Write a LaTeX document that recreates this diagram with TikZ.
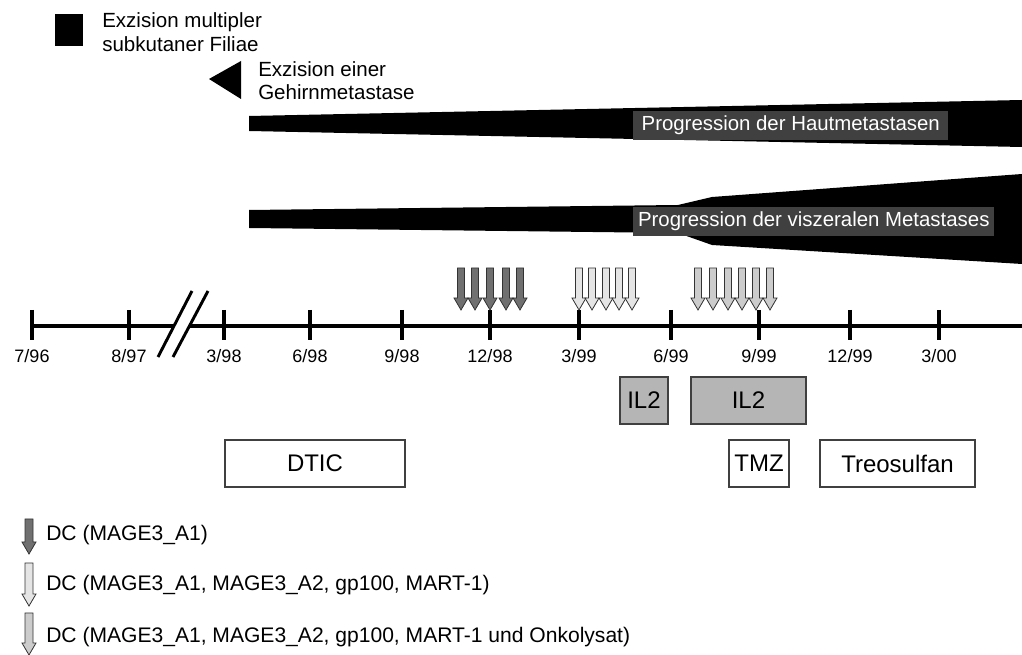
\documentclass[tikz,border=0pt]{standalone}
\usepackage{fontspec}
\setmainfont{Liberation Sans}
\usepackage{xcolor}
\usetikzlibrary{arrows}

\definecolor{dcdark}{gray}{0.44}
\definecolor{dclight}{gray}{0.9}
\definecolor{dclysat}{gray}{0.8}
\definecolor{ilgray}{gray}{0.71}
\definecolor{labelgray}{gray}{0.25}

\begin{document}
\begin{tikzpicture}[
    x=0.75pt, y=-0.75pt,
    axis/.style={line width=3pt},
    tick/.style={line width=2.4pt},
    break line/.style={line width=2.2pt},
    prog label/.style={fill=labelgray, text=white, anchor=west,
    font=\fontsize{15.3}{17}\selectfont, inner xsep=3pt, inner ysep=3.5pt},
    note/.style={anchor=base west, font=\fontsize{15.4}{17}\selectfont, inner sep=0pt},
    legend/.style={anchor=base west, font=\fontsize{15.8}{17}\selectfont, inner sep=0pt},
    date/.style={anchor=base, font=\fontsize{13.5}{16}\selectfont, inner sep=0pt},
    therapy/.style={draw=black!75, line width=0.8pt, minimum height=35.25pt,
    font=\fontsize{18}{20}\selectfont},
    dc arrow/.style={draw=black!80, line width=0.6pt, line join=miter}
    ]
\useasboundingbox (0,0) rectangle (1022,655);

% events
\fill (55,14) rectangle (83,46);
\node[note] (multi1) at (102,28) {Exzision multipler};
\node[note] (multi2) at (102,52) {subkutaner Filiae};
\fill (209,79) -- (241,61) -- (241,99) -- cycle;
\node[note] (gehirn1) at (258,77) {Exzision einer};
\node[note] (gehirn2) at (258,100) {Gehirnmetastase};

% progression
\fill (249,116) -- (1022,100) -- (1022,147) -- (249,131) -- cycle;
\node[prog label, minimum width=236.25pt] (haut) at (633,125.5) {Progression der Hautmetastasen};
\fill (249,210) -- (678,205) -- (712,197) -- (1022,174) -- (1022,264)
  -- (712,245) -- (678,233) -- (249,228) -- cycle;
\node[prog label, minimum width=270.75pt] (viszeral) at (633,221.5) {Progression der viszeralen Metastases};

% time axis
\coordinate (start) at (32,326);
\coordinate (gap1) at (174,326);
\coordinate (gap2) at (190,326);
\coordinate (stop) at (1022,326);
\draw[axis] (start) -- (gap1);
\draw[axis] (gap2) -- (stop);
\draw[break line] (158,357) -- (192,291);
\draw[break line] (173,357) -- (208,291);
\foreach \x/\lab [count=\i] in {32/{7/96},129/{8/97},224/{3/98},310/{6/98},402/{9/98},
  490/{12/98},579/{3/99},671/{6/99},759/{9/99},850/{12/99},939/{3/00}}{
  \coordinate (t\i) at (\x,326);
  \draw[tick] ([yshift=12pt]t\i) -- ([yshift=-10.5pt]t\i);
  \node[date] (d\i) at (\x,363) {\lab};
}

% vaccinations
\foreach \x in {461,475,490,506,520}
  \draw[dc arrow, fill=dcdark] (\x-3.5,268) -- (\x+3.5,268) -- (\x+3.5,298) -- (\x+7,298)
    -- (\x,310) -- (\x-7,298) -- (\x-3.5,298) -- cycle;
\foreach \x in {579,592,606,619,632}
  \draw[dc arrow, fill=dclight] (\x-3.5,268) -- (\x+3.5,268) -- (\x+3.5,298) -- (\x+7,298)
    -- (\x,310) -- (\x-7,298) -- (\x-3.5,298) -- cycle;
\foreach \x in {698,713,728,742,756,770}
  \draw[dc arrow, fill=dclysat] (\x-3.5,268) -- (\x+3.5,268) -- (\x+3.5,298) -- (\x+7,298)
    -- (\x,310) -- (\x-7,298) -- (\x-3.5,298) -- cycle;

% therapies
\node[therapy, fill=ilgray, minimum width=36pt] (il2a) at (644,400.5) {IL2};
\node[therapy, fill=ilgray, minimum width=86.25pt] (il2b) at (748.5,400.5) {IL2};
\node[therapy, minimum width=135pt] (dtic) at (315,463.5) {DTIC};
\node[therapy, minimum width=45pt] (tmz) at (759,463.5) {TMZ};
\node[therapy, minimum width=116.25pt] (treo) at (897.5,463.5) {Treosulfan};

% legend
\draw[dc arrow, fill=dcdark] (25,519) -- (33,519) -- (33,542) -- (36,542) -- (29,554)
  -- (22,542) -- (25,542) -- cycle;
\node[legend] (leg1) at (46,541) {DC (MAGE3\_A1)};
\draw[dc arrow, fill=dclight] (25,563) -- (33,563) -- (33,594) -- (36,594) -- (29,606)
  -- (22,594) -- (25,594) -- cycle;
\node[legend] (leg2) at (46,591) {DC (MAGE3\_A1, MAGE3\_A2, gp100, MART-1)};
\draw[dc arrow, fill=dclysat] (25,613) -- (33,613) -- (33,643) -- (36,643) -- (29,655)
  -- (22,643) -- (25,643) -- cycle;
\node[legend] (leg3) at (46,643) {DC (MAGE3\_A1, MAGE3\_A2, gp100, MART-1 und Onkolysat)};
\end{tikzpicture}
\end{document}
